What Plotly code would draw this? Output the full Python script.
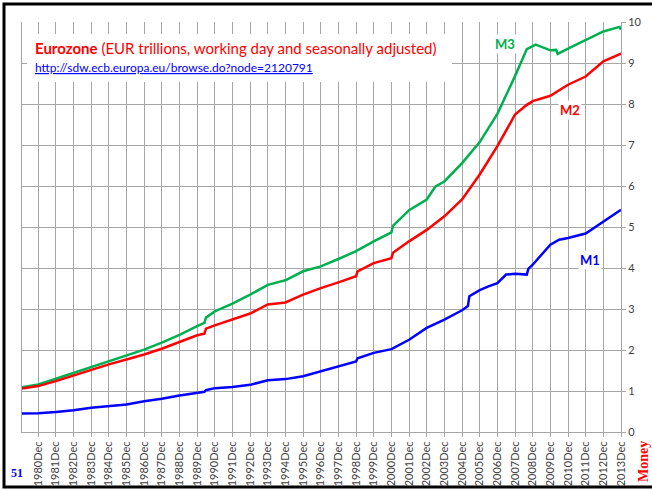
import plotly.graph_objects as go

# Euro area monetary aggregates, EUR trillions
years = list(range(1980, 2014))

m3_dates = ["1980-01", "1980-12", "1981-12", "1982-12", "1983-12", "1984-12", "1985-12",
            "1986-12", "1987-12", "1988-12", "1989-12", "1990-05", "1990-06", "1990-12",
            "1991-12", "1992-12", "1993-12", "1994-12", "1995-12", "1996-12", "1997-12",
            "1998-12", "1999-12", "2000-12", "2001-01", "2001-12", "2002-12", "2003-06",
            "2003-12", "2004-12", "2005-12", "2006-12", "2007-12", "2008-08", "2009-02",
            "2009-12", "2010-04", "2010-05", "2010-12", "2011-12", "2012-12", "2013-11",
            "2013-12"]
m3_vals = [1.09, 1.16, 1.30, 1.44, 1.59, 1.73, 1.87,
           2.01, 2.18, 2.37, 2.58, 2.66, 2.79, 2.94,
           3.13, 3.35, 3.59, 3.70, 3.92, 4.04, 4.22,
           4.41, 4.65, 4.87, 5.03, 5.41, 5.67, 5.99,
           6.11, 6.56, 7.07, 7.76, 8.68, 9.34, 9.45,
           9.31, 9.32, 9.22, 9.35, 9.55, 9.77, 9.88,
           9.81]

m2_dates = ["1980-01", "1980-12", "1981-12", "1982-12", "1983-12", "1984-12", "1985-12",
            "1986-12", "1987-12", "1988-12", "1989-12", "1990-05", "1990-06", "1990-12",
            "1991-12", "1992-12", "1993-12", "1994-12", "1995-12", "1996-12", "1997-12",
            "1998-12", "1999-01", "1999-12", "2000-12", "2001-01", "2001-12", "2002-12",
            "2003-12", "2004-12", "2005-12", "2006-12", "2007-12", "2008-08", "2008-12",
            "2009-12", "2010-12", "2011-12", "2012-12", "2013-12"]
m2_vals = [1.06, 1.12, 1.24, 1.38, 1.52, 1.65, 1.77,
           1.89, 2.03, 2.20, 2.36, 2.40, 2.52, 2.60,
           2.74, 2.89, 3.11, 3.16, 3.35, 3.51, 3.65,
           3.80, 3.92, 4.12, 4.24, 4.37, 4.65, 4.93,
           5.26, 5.67, 6.28, 6.97, 7.74, 7.98, 8.07,
           8.20, 8.47, 8.67, 9.04, 9.23]

m1_dates = ["1980-01", "1980-12", "1981-12", "1982-12", "1983-12", "1984-12", "1985-12",
            "1986-12", "1987-12", "1988-12", "1989-12", "1990-05", "1990-06", "1990-12",
            "1991-12", "1992-12", "1993-12", "1994-12", "1995-12", "1996-12", "1997-12",
            "1998-12", "1999-01", "1999-12", "2000-12", "2001-12", "2002-12", "2003-12",
            "2004-12", "2005-04", "2005-05", "2005-12", "2006-06", "2006-12", "2007-06",
            "2007-12", "2008-08", "2008-09", "2008-12", "2009-12", "2010-06", "2010-12",
            "2011-12", "2012-12", "2013-12"]
m1_vals = [0.45, 0.46, 0.49, 0.53, 0.59, 0.63, 0.67,
           0.75, 0.81, 0.89, 0.95, 0.98, 1.02, 1.07,
           1.10, 1.15, 1.26, 1.29, 1.36, 1.48, 1.60,
           1.72, 1.80, 1.93, 2.02, 2.25, 2.54, 2.74,
           2.97, 3.07, 3.31, 3.46, 3.55, 3.63, 3.84,
           3.86, 3.84, 3.98, 4.08, 4.57, 4.69, 4.73,
           4.84, 5.14, 5.42]

GREEN, RED, BLUE = "#00b050", "#ff0000", "#0000ff"
GRID = "#a6a6a6"
FONT = "Lato"

fig = go.Figure()
for name, d, v, c in [("M3", m3_dates, m3_vals, GREEN),
                      ("M2", m2_dates, m2_vals, RED),
                      ("M1", m1_dates, m1_vals, BLUE)]:
    fig.add_trace(go.Scatter(x=d, y=v, name=name, mode="lines",
                             line=dict(color=c, width=2.5)))

# plot area in pixels: x 22..621, y 22..432
def px(x):
    return (x - 22) / 599

def py(y):
    return (432 - y) / 410

shapes = [
    # white box behind the title
    dict(type="rect", xref="paper", yref="paper", layer="above",
         x0=px(27), x1=px(452), y0=py(82), y1=py(34),
         fillcolor="white", line=dict(width=0)),
    # outer black frame
    dict(type="rect", xref="paper", yref="paper", layer="above",
         x0=px(4), x1=px(660), y0=py(487), y1=py(4),
         line=dict(color="black", width=3)),
]

def label(x, y, text, color, size=13, family=FONT, **kw):
    return dict(x=px(x), y=py(y), xref="paper", yref="paper", showarrow=False,
                xanchor="center", yanchor="middle", text=text,
                font=dict(family=family, size=size, color=color), **kw)

annotations = [
    dict(x=px(33), y=py(48), xref="paper", yref="paper", xanchor="left", yanchor="middle",
         showarrow=False, font=dict(family=FONT, size=15, color=RED),
         text="<b>Eurozone</b> (EUR trillions, working day and seasonally adjusted)"),
    dict(x=px(33), y=py(67), xref="paper", yref="paper", xanchor="left", yanchor="middle",
         showarrow=False, font=dict(family=FONT, size=12, color=BLUE),
         text="<span style='text-decoration:underline'>http://sdw.ecb.europa.eu/browse.do?node=2120791</span>"),
    label(505, 44, "<b>M3</b>", GREEN, bgcolor="white"),
    label(570, 110, "<b>M2</b>", RED, bgcolor="white"),
    label(590, 260, "<b>M1</b>", BLUE, bgcolor="white"),
    label(17, 473, "<b>51</b>", BLUE, size=12, family="Liberation Serif"),
    label(643, 462, "<b>Money</b>", RED, size=14, family="Liberation Serif", textangle=-90),
]

fig.update_layout(
    width=652, height=490,
    margin=dict(l=22, r=31, t=22, b=58, autoexpand=False),
    paper_bgcolor="white", plot_bgcolor="white",
    showlegend=False,
    font=dict(family=FONT, size=11, color="#404040"),
    shapes=shapes, annotations=annotations,
    xaxis=dict(
        type="date", range=["1980-01-01", "2013-12-01"],
        tickmode="array",
        tickvals=[f"{y}-12-01" for y in years],
        ticktext=[f"{y}Dec" for y in years],
        tickangle=-90, tickfont=dict(size=11),
        showgrid=True, gridcolor=GRID, gridwidth=1,
        showline=True, linecolor=GRID, linewidth=1,
        ticks="outside", ticklen=4, tickcolor=GRID,
        automargin=False,
    ),
    yaxis=dict(
        side="right", range=[0, 10], dtick=1,
        tickfont=dict(size=11),
        showgrid=True, gridcolor=GRID, gridwidth=1,
        showline=True, linecolor=GRID, linewidth=1, mirror=True,
        ticks="outside", ticklen=4, tickcolor=GRID,
        zeroline=False, automargin=False,
    ),
)

# pin the figure to the window's top-left corner so the page never scrolls
pin = """
document.documentElement.style.overflow = 'hidden';
document.body.style.margin = '0';
document.body.style.overflow = 'hidden';
var gd = document.getElementById('{plot_id}');
gd.style.position = 'fixed';
gd.style.left = '0px';
gd.style.top = '0px';
"""
fig.write_html("out.html", post_script=pin, config={"displayModeBar": False})
